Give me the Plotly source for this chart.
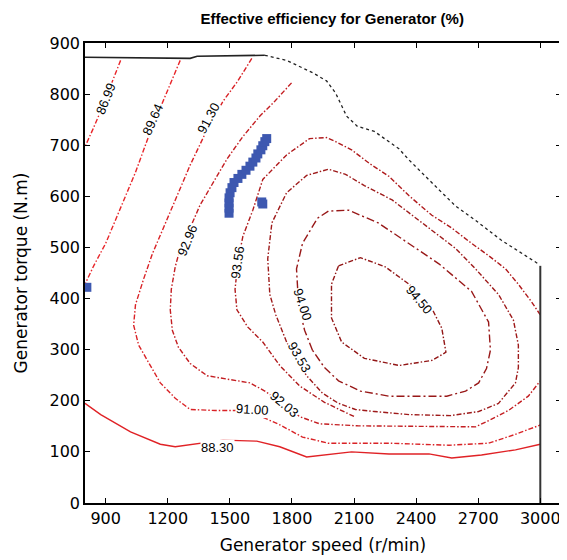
import plotly.graph_objects as go

# ---------------- data (speed r/min, torque N.m) ----------------
speed_8699 = [972, 924, 876, 838, 800]
torque_8699 = [866, 816, 767, 731, 697]

speed_8964 = [1260, 1188, 1116, 1044, 972, 900, 842, 800]
torque_8964 = [866, 796, 727, 647, 577, 508, 464, 428]

speed_9130 = [1606, 1539, 1467, 1381, 1308, 1236, 1179, 1126, 1083, 1044, 1035, 1059, 1107, 1164,
              1236, 1308, 1429, 1549, 1630, 1741, 1851, 1976, 2269, 2558, 2750, 2870, 2990, 3000]
torque_9130 = [870, 826, 786, 723, 661, 593, 538, 488, 438, 388, 348, 309, 275, 235,
               205, 183, 181, 181, 173, 153, 129, 117, 117, 113, 117, 133, 151, 153]

speed_8830 = [800, 876, 1020, 1164, 1236, 1467, 1630, 1741, 1871, 2088, 2269, 2462, 2572, 2716, 2880, 3000]
torque_8830 = [195, 173, 139, 115, 110, 123, 121, 110, 90, 100, 96, 96, 88, 94, 104, 115]

speed_9296 = [1798, 1717, 1645, 1563, 1486, 1419, 1356, 1308, 1260, 1236, 1217, 1212, 1222, 1251, 1308,
              1390, 1501, 1597, 1669, 1755, 1837, 1933, 2117, 2452, 2687, 2750, 2846, 2942, 3000]
torque_9296 = [822, 786, 757, 717, 673, 627, 583, 538, 498, 462, 418, 378, 338, 305, 273,
               249, 241, 235, 219, 195, 169, 155, 151, 149, 149, 161, 181, 209, 239]

speed_9356 = [3000, 2957, 2894, 2832, 2750, 2668, 2572, 2476, 2366, 2269, 2179, 2088, 2011, 1967, 1885,
              1774, 1659, 1611, 1563, 1539, 1525, 1534, 1587, 1659, 1741, 1837, 1957, 2101]
torque_9356 = [368, 394, 428, 458, 484, 508, 538, 563, 601, 639, 663, 691, 707, 715, 713,
               681, 633, 573, 522, 472, 418, 378, 344, 315, 269, 229, 197, 169]

speed_9353 = [1774, 1722, 1693, 1683, 1703, 1774, 1871, 1976, 2059, 2150, 2284, 2380, 2476, 2591, 2687,
              2798, 2870, 2894, 2894, 2880, 2798, 2702, 2567, 2366, 2198, 2107, 2025, 1947, 1871, 1813, 1774]
torque_9353 = [315, 368, 408, 478, 548, 607, 641, 653, 643, 621, 593, 563, 534, 498, 458,
               408, 358, 309, 265, 235, 195, 179, 171, 173, 179, 183, 195, 215, 249, 285, 315]

speed_9400 = [1899, 1861, 1832, 1822, 1851, 1923, 1976, 2073, 2217, 2366, 2510, 2668, 2750, 2759, 2740,
              2702, 2639, 2548, 2414, 2269, 2131, 2025, 1957, 1899]
torque_9400 = [299, 338, 388, 458, 508, 557, 571, 573, 548, 508, 468, 414, 354, 299, 263,
               235, 219, 209, 209, 209, 219, 239, 265, 299]

speed_9450 = [2025, 2131, 2251, 2366, 2462, 2524, 2544, 2476, 2317, 2150, 2040, 1991, 1991, 2025]
torque_9450 = [464, 480, 462, 428, 392, 342, 295, 279, 269, 283, 315, 362, 428, 464]

# maximum torque boundary
speed_bound_top = [800, 1308, 1342, 1669]
torque_bound_top = [872, 870, 874, 876]
speed_bound_curve = [1669, 1774, 1899, 1967, 2011, 2064, 2116, 2198, 2317, 2366, 2510, 2591, 2687, 2812, 2990]
torque_bound_curve = [876, 866, 842, 826, 802, 757, 737, 727, 693, 671, 613, 581, 553, 514, 468]
speed_bound_right = [3000, 3000]
torque_bound_right = [464, 0]

# operating points
speed_ops = [1496, 1496, 1496, 1496, 1501, 1510, 1520, 1539, 1558, 1578, 1597, 1611, 1626, 1635,
             1650, 1659, 1669, 1678, 1659, 1654, 809]
torque_ops = [567, 577, 587, 597, 607, 617, 627, 635, 643, 651, 659, 667, 675, 683,
              691, 699, 707, 713, 585, 589, 422]

# contour labels
label_text = ["86.99", "89.64", "91.30", "92.96", "93.56", "93.53", "94.00", "94.50", "92.03", "91.00", "88.30"]
label_speed = [900, 1126, 1395, 1294, 1539, 1837, 1851, 2414, 1765, 1611, 1438]
label_torque = [792, 751, 753, 514, 472, 285, 388, 398, 193, 183, 108]

x_ticks = [900, 1200, 1500, 1800, 2100, 2400, 2700, 3000]
y_ticks = [0, 100, 200, 300, 400, 500, 600, 700, 800, 900]

# ---------------- figure ----------------
fig = go.Figure()

fine_dashdot = "5px,2px,1.5px,2px"
lines = [
    (speed_8699, torque_8699, "#e8262a", fine_dashdot),
    (speed_8964, torque_8964, "#e8262a", fine_dashdot),
    (speed_9130, torque_9130, "#d92226", fine_dashdot),
    (speed_8830, torque_8830, "#e02226", "solid"),
    (speed_9296, torque_9296, "#c41e22", fine_dashdot),
    (speed_9356, torque_9356, "#b01a1c", fine_dashdot),
    (speed_9353, torque_9353, "#9e1a1a", fine_dashdot),
    (speed_9400, torque_9400, "#981818", "8px,3px,2px,3px"),
    (speed_9450, torque_9450, "#921616", fine_dashdot),
]
for xs, ys, col, dash in lines:
    fig.add_trace(go.Scatter(x=xs, y=ys, mode="lines", line=dict(color=col, width=1.4, dash=dash),
                             hoverinfo="skip", showlegend=False))

fig.add_trace(go.Scatter(x=speed_bound_top, y=torque_bound_top, mode="lines",
                         line=dict(color="#222222", width=1.6), showlegend=False))
fig.add_trace(go.Scatter(x=speed_bound_curve, y=torque_bound_curve, mode="lines",
                         line=dict(color="#222222", width=1.3, dash="dot"), showlegend=False))
fig.add_trace(go.Scatter(x=speed_bound_right, y=torque_bound_right, mode="lines",
                         line=dict(color="#333333", width=2), showlegend=False))

fig.add_trace(go.Scatter(x=speed_ops, y=torque_ops, mode="markers",
                         marker=dict(color="#3d58b0", size=9, symbol="square"), showlegend=False))

angles = [-68, -66, -62, -68, -82, 60, 72, 50, 40, 3, 0]
for t, sx, ty, a in zip(label_text, label_speed, label_torque, angles):
    fig.add_annotation(x=sx, y=ty, text=t, showarrow=False, textangle=a,
                       font=dict(family="Liberation Sans, Arial", size=13, color="black"),
                       bgcolor="white", borderpad=0)

axis_common = dict(showline=True, linecolor="black", linewidth=1.5, mirror="ticks",
                   ticks="inside", ticklen=5, tickwidth=1, tickcolor="black",
                   showgrid=False, zeroline=False,
                   tickfont=dict(family="DejaVu Sans", size=16, color="black"))

# page body has an 8 px margin, so the figure is sized and offset to keep the plot area in place
fig.update_layout(
    width=559, height=552,
    margin=dict(l=77, r=4, t=35, b=57),
    paper_bgcolor="white", plot_bgcolor="white",
    title=dict(text="<b>Effective efficiency for Generator (%)</b>", x=0.58, xanchor="center",
               xref="container", y=0.981, yanchor="middle", yref="container",
               font=dict(family="Liberation Sans, Arial", size=15, color="black")),
    xaxis=dict(range=[800, 3100], tickvals=x_ticks, ticktext=[str(v) for v in x_ticks],
               title=dict(text="Generator speed (r/min)", standoff=12,
                          font=dict(family="DejaVu Sans", size=17, color="black")),
               **axis_common),
    yaxis=dict(range=[0, 900], tickvals=y_ticks, ticktext=[str(v) for v in y_ticks],
               title=dict(text="Generator torque (N.m)", standoff=18,
                          font=dict(family="DejaVu Sans", size=17, color="black")),
               **axis_common),
)

fig.write_html("out.html")
